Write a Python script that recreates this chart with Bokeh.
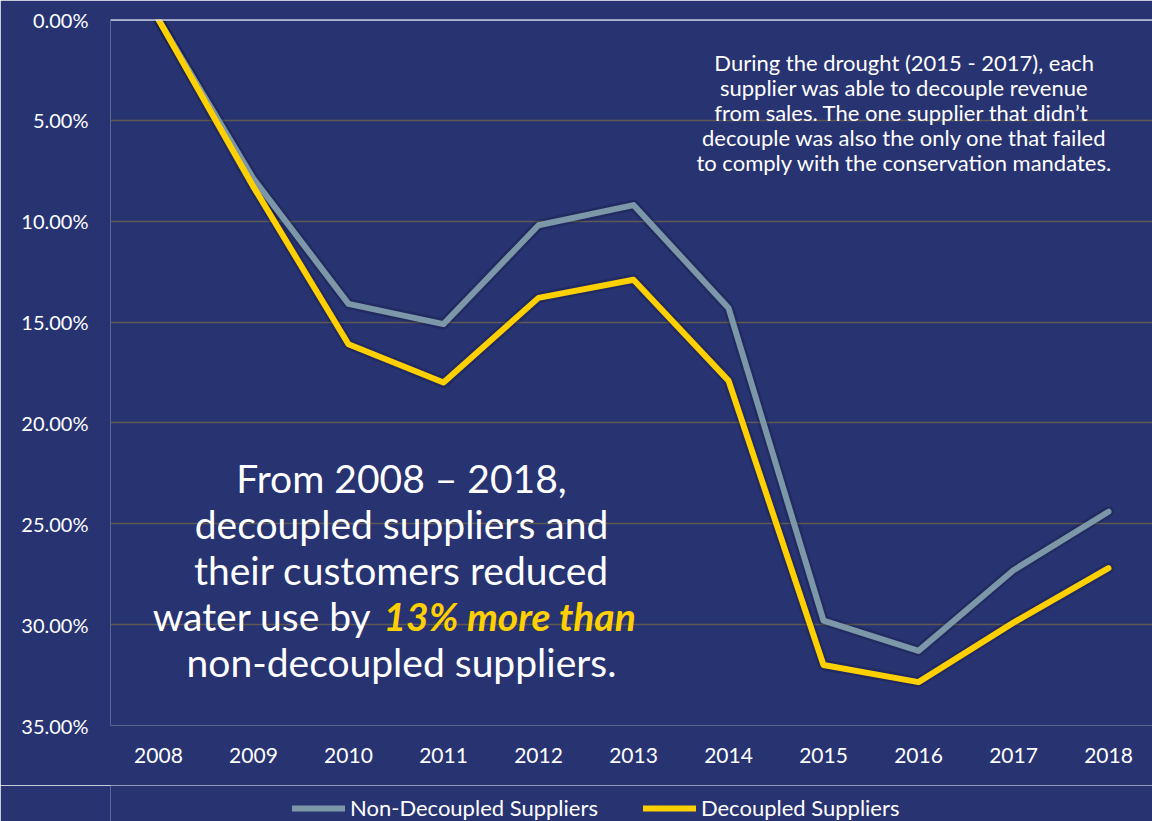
from bokeh.plotting import figure
from bokeh.layouts import column
from bokeh.models import Range1d, FixedTicker, Span, Label, Legend, LegendItem
from bokeh.embed import file_html
from bokeh.resources import INLINE

# ---- data ----
years = [2008, 2009, 2010, 2011, 2012, 2013, 2014, 2015, 2016, 2017, 2018]
non_decoupled = [0.0, 7.9, 14.1, 15.1, 10.2, 9.2, 14.3, 29.8, 31.3, 27.3, 24.4]
decoupled = [0.0, 8.3, 16.1, 18.0, 13.8, 12.9, 17.9, 32.0, 32.85, 29.9, 27.2]
y_ticks = [0, 5, 10, 15, 20, 25, 30, 35]
y_tick_labels = ["0.00%", "5.00%", "10.00%", "15.00%", "20.00%", "25.00%", "30.00%", "35.00%"]
series_names = ["Non-Decoupled Suppliers", "Decoupled Suppliers"]

note_lines = [
    "During the drought (2015 - 2017), each",
    "supplier was able to decouple revenue",
    "from sales.  The one supplier that didn\u2019t",
    "decouple was also the only one that failed",
    "to comply with the conservation mandates.",
]
big_lines = [
    "From 2008 \u2013 2018,",
    "decoupled suppliers and",
    "their customers reduced",
    None,
    "non-decoupled suppliers.",
]
big_split = ("water use by", "13% more than")

# ---- style ----
BG = "#283372"
GRAY = "#7b97a8"
YELLOW = "#ffd000"
GRID = "#5c5a55"
TEXT = "#ffffff"
FONT = "Lato"
LINE_KW = dict(line_width=6, line_join="round", line_cap="round")

p = figure(
    width=1152, height=785,
    x_range=Range1d(2007.495, 2018.463),
    y_range=Range1d(35, 0),
    output_backend="svg", toolbar_location=None,
    background_fill_color=BG, border_fill_color=BG,
    min_border_left=110, min_border_right=0, min_border_top=19, min_border_bottom=60,
)
p.outline_line_color = None

# axes
p.xaxis.ticker = FixedTicker(ticks=years)
p.xaxis.axis_line_color = None
p.xaxis.major_tick_line_color = None
p.xaxis.minor_tick_line_color = None
p.xaxis.major_tick_out = 0
p.xaxis.major_tick_in = 0
p.xaxis.major_label_text_color = TEXT
p.xaxis.major_label_text_font = FONT
p.xaxis.major_label_text_font_size = "21px"
p.xaxis.major_label_standoff = 22

p.yaxis.ticker = FixedTicker(ticks=y_ticks)
p.yaxis.major_label_overrides = {t: s for t, s in zip(y_ticks, y_tick_labels)}
p.yaxis.axis_line_color = None
p.yaxis.major_tick_line_color = None
p.yaxis.minor_tick_line_color = None
p.yaxis.major_tick_out = 0
p.yaxis.major_tick_in = 0
p.yaxis.major_label_text_color = TEXT
p.yaxis.major_label_text_font = FONT
p.yaxis.major_label_text_font_size = "20px"
p.yaxis.major_label_standoff = 22

p.xgrid.grid_line_color = None
p.ygrid.ticker = FixedTicker(ticks=y_ticks)
p.ygrid.grid_line_color = GRID
p.ygrid.grid_line_width = 1.5

p.add_layout(Span(location=0, dimension="width", line_color="#d8def0", line_width=2.5))

# shadows
for ys in (non_decoupled, decoupled):
    p.line(years, ys, line_width=11, line_color="black", line_alpha=0.15,
           line_join="round", line_cap="round")

p.line(years, non_decoupled, line_color=GRAY, **LINE_KW)
p.line(years, decoupled, line_color=YELLOW, **LINE_KW)

# top-right note
note_x = 2015.85
note_y0 = 2.13
note_step = 1.24
for i, line in enumerate(note_lines):
    p.add_layout(Label(x=note_x, y=note_y0 + i * note_step, text=line,
                       text_align="center", text_baseline="middle",
                       text_color=TEXT, text_font=FONT, text_font_size="22px"))

# big statement
big_x = 2010.558
big_y0 = 22.75
big_step = 2.28
for i, line in enumerate(big_lines):
    y = big_y0 + i * big_step
    if line is None:
        p.add_layout(Label(x=2010.242, y=y, text=big_split[0],
                           text_align="right", text_baseline="middle",
                           text_color=TEXT, text_font=FONT, text_font_size="39px"))
        p.add_layout(Label(x=2010.368, y=y, text=big_split[1],
                           text_align="left", text_baseline="middle",
                           text_color=YELLOW, text_font=FONT, text_font_size="39px",
                           text_font_style="bold italic"))
    else:
        p.add_layout(Label(x=big_x, y=y, text=line,
                           text_align="center", text_baseline="middle",
                           text_color=TEXT, text_font=FONT, text_font_size="39px"))

# ---- legend strip (separate small figure so the legend sits below the axis) ----
lg = figure(
    width=1152, height=36,
    x_range=Range1d(0, 1), y_range=Range1d(0, 1),
    output_backend="svg", toolbar_location=None,
    background_fill_color=BG, border_fill_color=BG,
    min_border_left=0, min_border_right=0, min_border_top=0, min_border_bottom=0,
)
lg.outline_line_color = None
lg.axis.visible = False
lg.grid.visible = False
lr1 = lg.line(years, non_decoupled, line_color=GRAY, **LINE_KW)
lr2 = lg.line(years, decoupled, line_color=YELLOW, **LINE_KW)

legend = Legend(
    items=[LegendItem(label=series_names[0], renderers=[lr1]),
           LegendItem(label=series_names[1], renderers=[lr2])],
    orientation="horizontal", location=(182, 0),
    background_fill_alpha=0, border_line_color=None,
    label_text_color=TEXT, label_text_font=FONT, label_text_font_size="22px",
    glyph_width=53, glyph_height=20, label_standoff=5, spacing=45,
    padding=0, margin=0,
)
lg.add_layout(legend)

layout = column(p, lg, spacing=0)
open("out.html", "w").write(file_html(layout, INLINE))
